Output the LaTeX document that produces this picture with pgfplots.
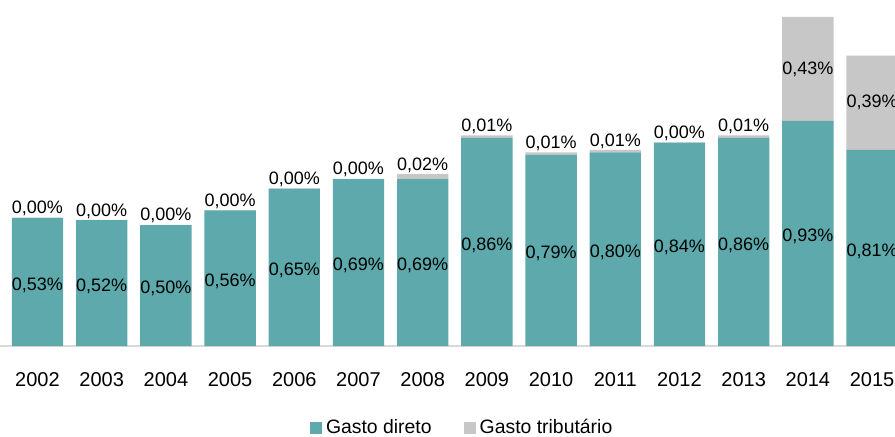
\documentclass[border=0pt]{standalone}
\usepackage{pgfplots}
\pgfplotsset{compat=1.18}
\usepackage{fontspec}
\setmainfont{Liberation Sans}
\definecolor{teal1}{RGB}{93,169,171}
\definecolor{gray1}{RGB}{199,199,199}
\definecolor{base}{RGB}{217,217,217}
\begin{document}
\begin{tikzpicture}
\useasboundingbox (0,-45pt) rectangle (447.5pt,173pt);
\begin{axis}[
  at={(0,0)}, anchor=south west,
  scale only axis, width=447.5pt, height=173pt,
  xmin=-0.584, xmax=13.357, ymin=0, ymax=1.4298,
  ybar stacked, bar width=0.8,
  clip=false,
  hide y axis,
  axis x line*=bottom,
  x axis line style={draw=base, line width=0.8pt, -},
  xtick={0,...,13},
  xticklabels={2002,2003,2004,2005,2006,2007,2008,2009,2010,2011,2012,2013,2014,2015},
  xtick style={draw=none},
  xticklabel style={anchor=base, yshift=-20pt, font=\fontsize{10}{12}\selectfont},
  point meta=rawy,
  visualization depends on={rawy \as \myval},
  /pgf/number format/fixed, /pgf/number format/fixed zerofill,
  /pgf/number format/precision=2, /pgf/number format/use comma,
  /pgf/number format/assume math mode=true,
  nodes near coords={\pgfmathprintnumber{\pgfplotspointmeta}\%},
  nodes near coords style={font=\fontsize{9}{10}\selectfont, anchor=center, inner sep=0pt},
  legend style={at={(0.5175,-0.237)}, anchor=center, draw=none, fill=none,
    legend columns=2, font=\fontsize{9.7}{11}\selectfont,
    /tikz/every even column/.append style={column sep=14pt}},
  legend image code/.code={\fill[#1] (-2pt,-3pt) rectangle (4pt,3pt);},
]
\addplot[fill=teal1, draw=none,
  every node near coord/.append style={yshift=-1.5pt}]
 coordinates {(0,0.53) (1,0.52) (2,0.50) (3,0.56) (4,0.65) (5,0.69) (6,0.69)
  (7,0.86) (8,0.79) (9,0.80) (10,0.84) (11,0.86) (12,0.93) (13,0.81)};
\addlegendentry{Gasto direto}
\addplot[fill=gray1, draw=none,
  every node near coord/.append style={yshift={(\myval>0.1) ? 0 : 4.5+60.5*\myval}}]
 coordinates {(0,0.001) (1,0.001) (2,0.001) (3,0.001) (4,0.001) (5,0.001) (6,0.02)
  (7,0.01) (8,0.01) (9,0.01) (10,0.001) (11,0.01) (12,0.43) (13,0.39)};
\addlegendentry{Gasto tributário}
\end{axis}
\end{tikzpicture}
\end{document}
